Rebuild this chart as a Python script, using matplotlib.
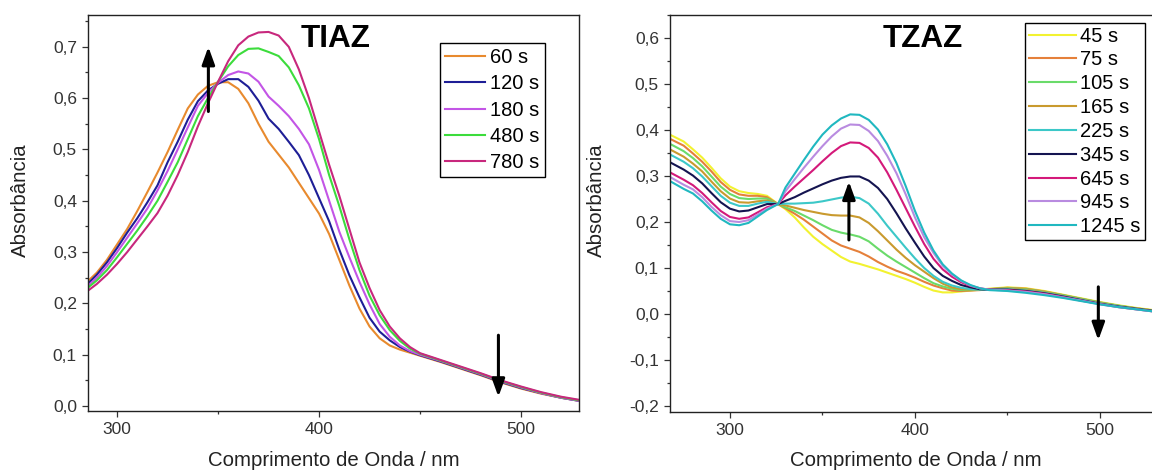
import matplotlib
matplotlib.use("Agg")
import matplotlib.pyplot as plt
from matplotlib.ticker import MultipleLocator, FuncFormatter

plt.rcParams['font.family'] = ['Liberation Sans', 'DejaVu Sans']

# ---- TIAZ (left panel) ----
wl_tiaz = [286, 290, 295, 300, 305, 310, 315, 320, 325, 330, 335, 340, 345, 350, 355,
           360, 365, 370, 375, 380, 385, 390, 395, 400, 405, 410, 415, 420, 425, 430,
           435, 440, 445, 450, 460, 470, 480, 490, 500, 510, 520, 529]

tiaz_60 = [0.245, 0.26, 0.285, 0.315, 0.345, 0.38, 0.417, 0.455, 0.495, 0.538, 0.58, 0.607,
           0.624, 0.631, 0.631, 0.618, 0.59, 0.55, 0.515, 0.49, 0.465, 0.435, 0.405, 0.375,
           0.335, 0.285, 0.235, 0.19, 0.155, 0.132, 0.118, 0.11, 0.104, 0.098, 0.086, 0.073,
           0.06, 0.046, 0.034, 0.024, 0.016, 0.01]
tiaz_120 = [0.24, 0.256, 0.28, 0.308, 0.338, 0.366, 0.397, 0.43, 0.475, 0.515, 0.558, 0.594,
            0.615, 0.628, 0.637, 0.637, 0.622, 0.595, 0.56, 0.54, 0.515, 0.489, 0.45, 0.405,
            0.36, 0.305, 0.255, 0.212, 0.172, 0.145, 0.128, 0.115, 0.106, 0.099, 0.087, 0.074,
            0.061, 0.047, 0.035, 0.025, 0.016, 0.01]
tiaz_180 = [0.236, 0.25, 0.273, 0.30, 0.328, 0.356, 0.385, 0.42, 0.458, 0.50, 0.543, 0.585,
            0.61, 0.63, 0.645, 0.652, 0.648, 0.632, 0.603, 0.585, 0.565, 0.54, 0.51, 0.46,
            0.40, 0.34, 0.29, 0.242, 0.198, 0.16, 0.135, 0.118, 0.107, 0.10, 0.088, 0.075,
            0.062, 0.048, 0.036, 0.025, 0.016, 0.01]
tiaz_480 = [0.232, 0.245, 0.265, 0.29, 0.316, 0.342, 0.37, 0.40, 0.437, 0.475, 0.52, 0.565,
            0.60, 0.632, 0.662, 0.684, 0.696, 0.697, 0.69, 0.682, 0.66, 0.625, 0.58, 0.52,
            0.45, 0.39, 0.325, 0.265, 0.215, 0.177, 0.148, 0.127, 0.112, 0.102, 0.089, 0.076,
            0.063, 0.049, 0.037, 0.026, 0.017, 0.011]
tiaz_780 = [0.226, 0.238, 0.256, 0.277, 0.30, 0.325, 0.35, 0.376, 0.41, 0.45, 0.495, 0.545,
            0.59, 0.632, 0.672, 0.703, 0.72, 0.728, 0.729, 0.722, 0.70, 0.656, 0.60, 0.535,
            0.47, 0.41, 0.345, 0.28, 0.23, 0.187, 0.155, 0.132, 0.115, 0.103, 0.09, 0.077,
            0.064, 0.05, 0.038, 0.027, 0.018, 0.012]

tiaz_labels = ['60 s', '120 s', '180 s', '480 s', '780 s']
tiaz_colors = ['#E88A2E', '#1E1E96', '#C355E6', '#3CDC3C', '#C8287D']

# ---- TZAZ (right panel) ----
wl_tzaz = [268, 275, 280, 285, 290, 295, 300, 305, 310, 315, 320, 326, 330, 335, 340, 345,
           350, 355, 360, 365, 370, 375, 380, 385, 390, 395, 400, 405, 410, 415, 420, 425,
           430, 435, 440, 450, 460, 470, 480, 490, 500, 510, 520, 528]

tzaz_45 = [0.389, 0.375, 0.358, 0.34, 0.318, 0.295, 0.277, 0.267, 0.263, 0.261, 0.257, 0.239,
           0.228, 0.21, 0.188, 0.168, 0.152, 0.138, 0.124, 0.114, 0.109, 0.103, 0.097, 0.09,
           0.083, 0.076, 0.068, 0.059, 0.051, 0.047, 0.047, 0.049, 0.051, 0.053, 0.055, 0.058,
           0.056, 0.05, 0.042, 0.034, 0.026, 0.019, 0.013, 0.009]
tzaz_75 = [0.38, 0.366, 0.349, 0.331, 0.31, 0.287, 0.27, 0.26, 0.257, 0.257, 0.254, 0.239,
           0.23, 0.218, 0.205, 0.19, 0.175, 0.16, 0.149, 0.142, 0.135, 0.125, 0.113, 0.103,
           0.094, 0.087, 0.079, 0.07, 0.062, 0.056, 0.051, 0.05, 0.051, 0.052, 0.054, 0.057,
           0.055, 0.049, 0.041, 0.033, 0.025, 0.018, 0.012, 0.008]
tzaz_105 = [0.369, 0.354, 0.339, 0.321, 0.299, 0.277, 0.261, 0.252, 0.25, 0.251, 0.251, 0.239,
            0.232, 0.224, 0.214, 0.204, 0.193, 0.183, 0.177, 0.173, 0.168, 0.158, 0.142, 0.127,
            0.114, 0.102, 0.09, 0.078, 0.067, 0.06, 0.055, 0.052, 0.052, 0.053, 0.054, 0.056,
            0.054, 0.048, 0.041, 0.033, 0.025, 0.018, 0.012, 0.008]
tzaz_165 = [0.357, 0.342, 0.327, 0.31, 0.288, 0.267, 0.251, 0.243, 0.242, 0.245, 0.247, 0.239,
            0.236, 0.231, 0.226, 0.222, 0.218, 0.215, 0.214, 0.214, 0.21, 0.198, 0.18, 0.16,
            0.14, 0.122, 0.106, 0.092, 0.078, 0.066, 0.058, 0.054, 0.053, 0.053, 0.054, 0.055,
            0.053, 0.047, 0.04, 0.032, 0.024, 0.017, 0.012, 0.008]
tzaz_225 = [0.346, 0.331, 0.317, 0.299, 0.278, 0.257, 0.242, 0.235, 0.235, 0.24, 0.244, 0.239,
            0.24, 0.24, 0.241, 0.242, 0.245, 0.249, 0.253, 0.255, 0.252, 0.24, 0.218, 0.192,
            0.168, 0.144, 0.121, 0.10, 0.083, 0.07, 0.062, 0.057, 0.054, 0.053, 0.053, 0.054,
            0.051, 0.046, 0.039, 0.031, 0.023, 0.017, 0.011, 0.007]
tzaz_345 = [0.329, 0.314, 0.301, 0.284, 0.263, 0.243, 0.229, 0.223, 0.225, 0.232, 0.239, 0.239,
            0.246, 0.254, 0.264, 0.273, 0.282, 0.29, 0.296, 0.299, 0.299, 0.29, 0.274, 0.25,
            0.219, 0.186, 0.155, 0.125, 0.10, 0.083, 0.072, 0.063, 0.058, 0.054, 0.053, 0.053,
            0.05, 0.045, 0.038, 0.03, 0.022, 0.016, 0.011, 0.007]
tzaz_645 = [0.307, 0.292, 0.28, 0.263, 0.243, 0.224, 0.211, 0.207, 0.21, 0.221, 0.232, 0.239,
            0.258, 0.277, 0.295, 0.313, 0.332, 0.35, 0.365, 0.373, 0.372, 0.361, 0.34, 0.308,
            0.27, 0.23, 0.19, 0.152, 0.12, 0.097, 0.081, 0.069, 0.061, 0.056, 0.053, 0.052,
            0.049, 0.044, 0.037, 0.029, 0.022, 0.015, 0.01, 0.006]
tzaz_945 = [0.297, 0.281, 0.271, 0.254, 0.233, 0.215, 0.202, 0.20, 0.204, 0.216, 0.229, 0.239,
            0.267, 0.293, 0.318, 0.342, 0.365, 0.386, 0.403, 0.412, 0.411, 0.398, 0.376, 0.344,
            0.306, 0.26, 0.21, 0.167, 0.133, 0.105, 0.086, 0.072, 0.062, 0.056, 0.053, 0.051,
            0.048, 0.043, 0.036, 0.029, 0.021, 0.015, 0.01, 0.006]
tzaz_1245 = [0.288, 0.272, 0.262, 0.245, 0.225, 0.207, 0.195, 0.193, 0.198, 0.212, 0.226, 0.239,
             0.275, 0.305, 0.335, 0.364, 0.39, 0.41, 0.425, 0.434, 0.433, 0.422, 0.401, 0.369,
             0.328, 0.278, 0.224, 0.177, 0.138, 0.108, 0.088, 0.073, 0.063, 0.056, 0.052, 0.05,
             0.046, 0.041, 0.035, 0.028, 0.021, 0.015, 0.01, 0.006]

tzaz_labels = ['45 s', '75 s', '105 s', '165 s', '225 s', '345 s', '645 s', '945 s', '1245 s']
tzaz_colors = ['#F2F230', '#E5803A', '#6ADB6A', '#C99A2E', '#3CC8C8', '#141450', '#D4197A',
               '#B98BE0', '#20B8C0']


def comma_fmt(v, pos):
    return ('%.1f' % v).replace('.', ',')


def style_axis(ax, xlim, ylim):
    ax.set_xlim(*xlim)
    ax.set_ylim(*ylim)
    ax.xaxis.set_major_locator(MultipleLocator(100))
    ax.xaxis.set_minor_locator(MultipleLocator(50))
    ax.yaxis.set_major_locator(MultipleLocator(0.1))
    ax.yaxis.set_minor_locator(MultipleLocator(0.05))
    ax.yaxis.set_major_formatter(FuncFormatter(comma_fmt))
    ax.tick_params(which='major', direction='out', length=4, width=0.9, labelsize=12.5,
                   labelcolor='#333333', color='#333333', pad=4)
    ax.tick_params(which='minor', direction='out', length=2.5, width=0.9, color='#333333')
    for s in ax.spines.values():
        s.set_linewidth(1.0)
        s.set_color('#222222')


def arrow(ax, tail, tip):
    ax.annotate('', xy=tip, xytext=tail,
                arrowprops=dict(arrowstyle='-|>,head_width=0.38,head_length=1.05',
                                lw=2.2, color='black', shrinkA=0, shrinkB=0,
                                mutation_scale=10))


fig = plt.figure(figsize=(11.52, 4.74), dpi=100)
ax1 = fig.add_axes([0.07639, 0.1329, 0.42622, 0.83544])
ax2 = fig.add_axes([0.58160, 0.1314, 0.42144, 0.83692])

# left panel
tiaz_series = [tiaz_60, tiaz_120, tiaz_180, tiaz_480, tiaz_780]
for vals, lab, col in zip(tiaz_series, tiaz_labels, tiaz_colors):
    ax1.plot(wl_tiaz, vals, color=col, lw=1.5, label=lab)
style_axis(ax1, (285.6, 528.7), (-0.0097, 0.762))
ax1.text(408.4, 0.716, 'TIAZ', fontsize=22.7, fontweight='bold', ha='center', va='center')
arrow(ax1, (345.2, 0.574), (345.2, 0.70))
arrow(ax1, (488.8, 0.138), (488.8, 0.018))
leg1 = ax1.legend(loc='upper left', bbox_to_anchor=(0.717, 0.929), fontsize=14.5,
                  frameon=True, fancybox=False, edgecolor='black', framealpha=1,
                  borderpad=0.25, labelspacing=0.36, handlelength=2.0, handletextpad=0.25,
                  borderaxespad=0)
leg1.get_frame().set_linewidth(1.0)

# right panel
tzaz_series = [tzaz_45, tzaz_75, tzaz_105, tzaz_165, tzaz_225, tzaz_345, tzaz_645, tzaz_945,
               tzaz_1245]
for vals, lab, col in zip(tzaz_series, tzaz_labels, tzaz_colors):
    ax2.plot(wl_tzaz, vals, color=col, lw=1.5, label=lab)
style_axis(ax2, (267.6, 530), (-0.2124, 0.65))
ax2.text(404, 0.598, 'TZAZ', fontsize=22.7, fontweight='bold', ha='center', va='center')
arrow(ax2, (364.3, 0.161), (364.3, 0.288))
arrow(ax2, (499.1, 0.059), (499.1, -0.057))
leg2 = ax2.legend(loc='upper left', bbox_to_anchor=(0.731, 0.981), fontsize=14.5,
                  frameon=True, fancybox=False, edgecolor='black', framealpha=1,
                  borderpad=0.2, labelspacing=0.24, handlelength=2.35, handletextpad=0.2,
                  borderaxespad=0)
leg2.get_frame().set_linewidth(1.0)

# axis titles
fig.text(20 / 1152, 1 - 200 / 474, 'Absorbância', rotation=90, fontsize=14.7,
         ha='center', va='center', color='#222222')
fig.text(596 / 1152, 1 - 200 / 474, 'Absorbância', rotation=90, fontsize=14.7,
         ha='center', va='center', color='#222222')
fig.text(334 / 1152, 1 - 461 / 474, 'Comprimento de Onda / nm', fontsize=14.7,
         ha='center', va='center', color='#222222')
fig.text(916 / 1152, 1 - 461 / 474, 'Comprimento de Onda / nm', fontsize=14.7,
         ha='center', va='center', color='#222222')

fig.savefig('out.png', dpi=100)
